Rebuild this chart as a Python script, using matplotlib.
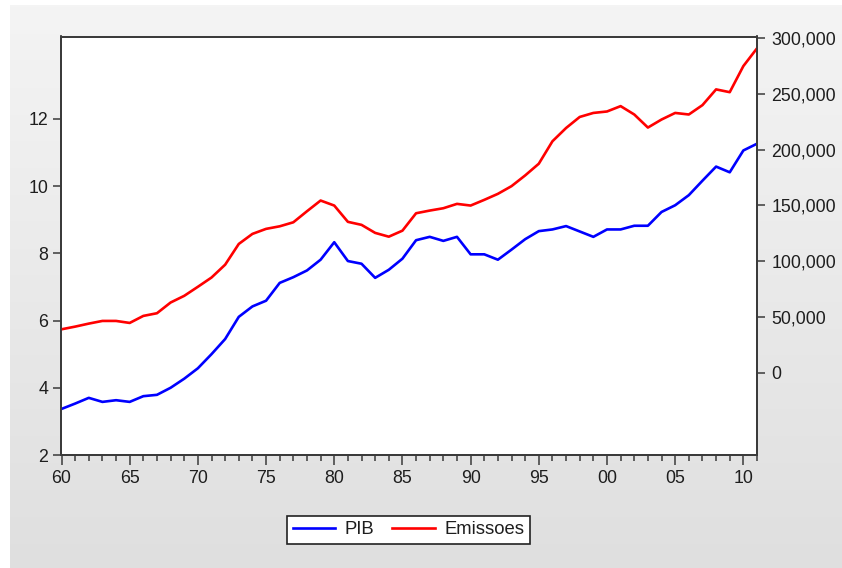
import numpy as np
import matplotlib
matplotlib.use("Agg")
import matplotlib.pyplot as plt
from matplotlib.ticker import FuncFormatter, MultipleLocator

plt.rcParams['font.family'] = ['Liberation Sans', 'DejaVu Sans']

years = list(range(1960, 2012))

pib = [3.37, 3.53, 3.70, 3.58, 3.63, 3.58, 3.75, 3.79, 4.00, 4.27,
       4.58, 5.00, 5.45, 6.11, 6.42, 6.59, 7.12, 7.29, 7.49, 7.81,
       8.33, 7.77, 7.69, 7.27, 7.51, 7.84, 8.39, 8.49, 8.37, 8.49,
       7.97, 7.97, 7.81, 8.11, 8.42, 8.66, 8.71, 8.81, 8.65, 8.49,
       8.71, 8.71, 8.82, 8.82, 9.23, 9.43, 9.73, 10.16, 10.58, 10.41,
       11.06, 11.26]

emissoes = [39000, 41400, 44100, 46500, 46500, 44700, 51000, 53400, 63000, 69000,
            77100, 85400, 96900, 115500, 124500, 129000, 131300, 134900, 144800, 154400,
            149900, 135300, 132600, 125400, 122000, 127400, 143000, 145400, 147500, 151400,
            149900, 155000, 160400, 167300, 176900, 187400, 207500, 219400, 229300, 232900,
            234200, 239000, 231500, 219800, 227000, 232900, 231500, 239900, 254000, 251500,
            274900, 290800]

left_ticks = [2, 4, 6, 8, 10, 12]
right_ticks = [0, 50000, 100000, 150000, 200000, 250000, 300000]
series_names = ["PIB", "Emissoes"]

W, H = 842, 568
fig = plt.figure(figsize=(W / 100, H / 100), dpi=100)
fig.patch.set_facecolor("white")

# grey gradient panel behind the chart
bg = fig.add_axes([10 / W, 0, 1 - 10 / W, 1 - 5 / H], zorder=-10)
grad = np.linspace(0.957, 0.875, 256).reshape(-1, 1)
bg.imshow(np.dstack([grad, grad, grad]), aspect="auto", extent=[0, 1, 0, 1])
bg.set_axis_off()

left, right, top, bottom = 61.5, 757.0, 36.5, 455.0
ax = fig.add_axes([left / W, 1 - bottom / H, (right - left) / W, (bottom - top) / H])
ax.set_facecolor("white")
ax2 = ax.twinx()

txt = "#1e1e1e"
spine_c = "#3a3a3a"
fs = 12.8

l1, = ax.plot(years, pib, color="#0000ff", lw=1.9, label=series_names[0])
l2, = ax2.plot(years, emissoes, color="#ff0000", lw=1.9, label=series_names[1])

ax.set_xlim(1960, 2011)
ax.set_ylim(2, 14.45)
ax2.set_ylim(-73650, 301400)

ax.set_yticks(left_ticks)
ax2.set_yticks(right_ticks)
ax2.yaxis.set_major_formatter(FuncFormatter(lambda v, p: f"{int(v):,}"))

ax.xaxis.set_major_locator(MultipleLocator(5))
ax.xaxis.set_minor_locator(MultipleLocator(1))
ax.xaxis.set_major_formatter(FuncFormatter(lambda v, p: f"{int(v) % 100:02d}"))

for a in (ax, ax2):
    for s in a.spines.values():
        s.set_color(spine_c)
        s.set_linewidth(1.3)

ax.tick_params(axis="x", which="major", direction="out", length=7.5, width=1.1,
               color=spine_c, labelsize=fs, labelcolor=txt, pad=3)
ax.tick_params(axis="x", which="minor", direction="out", length=4.5, width=1.1,
               color=spine_c)
ax.tick_params(axis="y", direction="out", length=6, width=1.1, color=spine_c,
               labelsize=fs, labelcolor=txt, pad=3.5)
ax2.tick_params(axis="y", direction="out", length=6, width=1.1, color=spine_c,
                labelsize=fs, labelcolor=txt, pad=4.5)

leg = fig.legend(handles=[l1, l2], loc="center", ncol=2,
                 bbox_to_anchor=((288.3 + 528.3) / 2 / W, 1 - 529.6 / H),
                 frameon=True, fancybox=False, fontsize=13.3,
                 handlelength=2.3, handletextpad=0.5, columnspacing=1.0,
                 borderpad=0.3, borderaxespad=0, edgecolor="#222222",
                 facecolor="white")
leg.get_frame().set_linewidth(1.2)
leg.get_frame().set_alpha(1)
for t in leg.get_texts():
    t.set_color(txt)

fig.savefig("out.png", dpi=100)
